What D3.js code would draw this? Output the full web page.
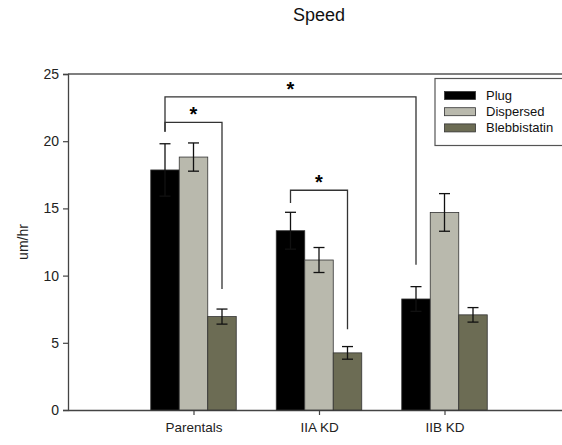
<!DOCTYPE html>
<html><head><meta charset="utf-8">
<script src="https://cdn.jsdelivr.net/npm/d3@7"></script>
<style>body{margin:0;background:#fff}svg{display:block;font-family:"Liberation Sans",Arial,sans-serif}</style>
</head><body><svg id="c" width="562" height="445"></svg>
<script>
const categories = ["Parentals", "IIA KD", "IIB KD"];
const seriesNames = ["Plug", "Dispersed", "Blebbistatin"];
const plugValues = [17.86, 13.34, 8.26];
const plugErrors = [1.95, 1.37, 0.92];
const dispersedValues = [18.82, 11.16, 14.7];
const dispersedErrors = [1.05, 0.93, 1.4];
const blebbValues = [6.95, 4.25, 7.08];
const blebbErrors = [0.56, 0.47, 0.54];
const yTicks = [0, 5, 10, 15, 20, 25];
const colors = ["#000000", "#b9b9ad", "#6c6c54"];
// significance brackets: [fromCat, fromSeries, toCat, toSeries, top, leftEnd, rightEnd]
const brackets = [
  [0, 0, 2, 0, 23.3, 20.7, 10.8],
  [0, 0, 0, 2, 21.4, 20.7, 9.0],
  [1, 0, 1, 2, 16.35, 15.4, 6.0]
];

const values = [plugValues, dispersedValues, blebbValues];
const errors = [plugErrors, dispersedErrors, blebbErrors];
const svg = d3.select("#c");
const x = d3.scaleLinear().domain([0, 4]).range([68, 570]);
const y = d3.scaleLinear().domain([0, 25]).range([410, 74]);
const inner = d3.scaleBand().domain(seriesNames).range([-42.75, 42.75]);
const barX = (ci, si) => x(ci + 1) + inner(seriesNames[si]);
const barC = (ci, si) => barX(ci, si) + inner.bandwidth() / 2;

svg.append("text").attr("x", 319).attr("y", 21).attr("text-anchor", "middle")
  .attr("font-size", 18).attr("fill", "#111").text("Speed");

// frame lines
svg.append("line").attr("x1", 68).attr("x2", 562).attr("y1", y(25)).attr("y2", y(25)).attr("stroke", "#555").attr("stroke-width", 1.3);

const yAxis = svg.append("g").attr("transform", "translate(68,0)")
  .call(d3.axisLeft(y).tickValues(yTicks).tickSize(5).tickPadding(4));
yAxis.select(".domain").attr("stroke", "#444").attr("stroke-width", 1.3);
yAxis.selectAll(".tick line").attr("stroke", "#444").attr("stroke-width", 1.2);
yAxis.selectAll("text").attr("font-size", 14).attr("fill", "#222").attr("font-family", "Liberation Sans, Arial, sans-serif");

const xAxis = svg.append("g").attr("transform", "translate(0,410)")
  .call(d3.axisBottom(x).tickValues([1, 2, 3]).tickFormat(d => categories[d - 1]).tickSize(5).tickPadding(7).tickSizeOuter(0));
xAxis.select(".domain").attr("stroke", "#444").attr("stroke-width", 1.3);
xAxis.selectAll(".tick line").attr("stroke", "#444").attr("stroke-width", 1.2);
xAxis.selectAll("text").attr("font-size", 13.5).attr("fill", "#222").attr("font-family", "Liberation Sans, Arial, sans-serif");

svg.append("text").attr("transform", "translate(28,242) rotate(-90)").attr("text-anchor", "middle")
  .attr("font-size", 14).attr("fill", "#222").text("um/hr");

// bars
seriesNames.forEach((s, si) => {
  svg.append("g").selectAll("rect").data(values[si]).join("rect")
    .attr("x", (d, ci) => barX(ci, si)).attr("width", inner.bandwidth())
    .attr("y", d => y(d)).attr("height", d => y(0) - y(d))
    .attr("fill", colors[si]).attr("stroke", "#333").attr("stroke-width", 0.8);
});
// error bars
seriesNames.forEach((s, si) => {
  values[si].forEach((v, ci) => {
    const cx = barC(ci, si), e = errors[si][ci];
    const g = svg.append("g").attr("stroke", "#111").attr("stroke-width", 1.3);
    g.append("line").attr("x1", cx).attr("x2", cx).attr("y1", y(v - e)).attr("y2", y(v + e));
    [v - e, v + e].forEach(t => g.append("line").attr("x1", cx - 5.5).attr("x2", cx + 5.5).attr("y1", y(t)).attr("y2", y(t)));
  });
});
// brackets
brackets.forEach(b => {
  const x1 = barC(b[0], b[1]), x2 = barC(b[2], b[3]);
  svg.append("path").attr("d", `M${x1},${y(b[5])}V${y(b[4])}H${x2}V${y(b[6])}`)
    .attr("fill", "none").attr("stroke", "#333").attr("stroke-width", 1.3);
  svg.append("text").attr("x", (x1 + x2) / 2).attr("y", y(b[4]) - 1).attr("text-anchor", "middle")
    .attr("font-size", 20).attr("font-weight", "bold").attr("fill", "#000").text("*");
});
// legend
const lg = svg.append("g").attr("transform", "translate(435,78.5)");
lg.append("rect").attr("width", 140).attr("height", 67).attr("fill", "#fff").attr("stroke", "#555").attr("stroke-width", 1.2);
seriesNames.forEach((s, si) => {
  lg.append("rect").attr("x", 9.5).attr("y", 13 + si * 16.2).attr("width", 31).attr("height", 8)
    .attr("fill", colors[si]).attr("stroke", "#333").attr("stroke-width", 0.8);
  lg.append("text").attr("x", 51).attr("y", 21 + si * 16.2).attr("font-size", 13).attr("fill", "#111").text(s);
});
</script></body></html>
